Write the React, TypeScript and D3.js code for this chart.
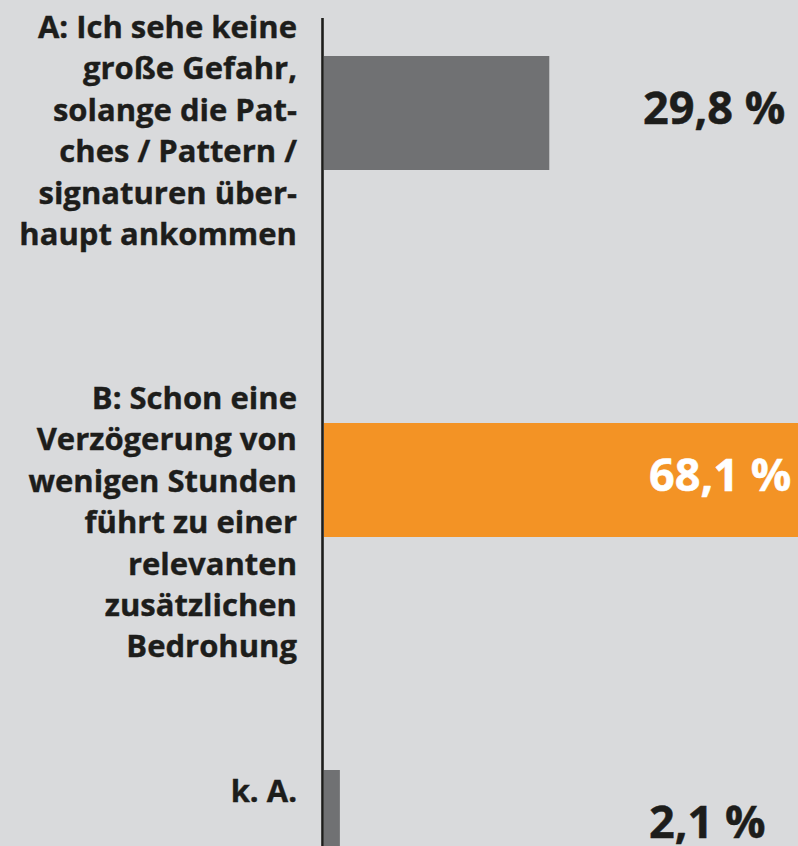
import React from "react";
import * as d3 from "d3";

const categories = ["A", "B", "k.A."];
const values = [29.8, 68.1, 2.1];
const valueLabels = ["29,8 %", "68,1 %", "2,1 %"];
const labelLines = [
  ["A: Ich sehe keine", "große Gefahr,", "solange die Pat-", "ches / Pattern /", "signaturen über-", "haupt ankommen"],
  ["B: Schon eine", "Verzögerung von", "wenigen Stunden", "führt zu einer", "relevanten", "zusätzlichen", "Bedrohung"],
  ["k. A."],
];
const barColors = ["#707173", "#f39325", "#707173"];
const valueColors = ["#1d1d1b", "#ffffff", "#1d1d1b"];

const W = 798;
const H = 846;
const FONT = "'Open Sans', 'DejaVu Sans', sans-serif";

export default function App() {
  const x = d3.scaleLinear().domain([0, 100]).range([324, 324 + 756]);
  const yBar = d3.scaleOrdinal<string, number>().domain(categories).range([56, 423, 770]);
  const yLabel = d3.scaleOrdinal<string, number>().domain(categories).range([38, 409, 802]);
  const barH = 114;
  const lineH = 41.4;
  const valueX = d3.scaleOrdinal<string, number>().domain(categories).range([643, 649, 649]);

  return (
    <svg width={W} height={H} style={{ position: "fixed", left: 0, top: 0, display: "block" }}>
      <rect x={0} y={0} width={W} height={H} fill="#d9dadc" />
      {categories.map((c, i) => (
        <rect key={c} x={x(0)} y={yBar(c)} width={x(values[i]) - x(0)} height={barH} fill={barColors[i]} />
      ))}
      <line x1={322.5} x2={322.5} y1={18} y2={H} stroke="#1d1d1b" strokeWidth={2.6} />
      {categories.map((c, i) => (
        <text key={"l" + c} fontFamily={FONT} fontWeight={700} fontSize={31} fill="#1d1d1b" textAnchor="end"
          stroke="#1d1d1b" strokeWidth={0.4} transform={`translate(297,0)`}>
          {labelLines[i].map((ln, j) => (
            <tspan key={j} x={0} y={yLabel(c) + j * lineH}>{ln}</tspan>
          ))}
        </text>
      ))}
      {categories.map((c, i) => (
        <text key={"v" + c} fontFamily={FONT} fontWeight={700} fontSize={45} fill={valueColors[i]} textAnchor="start"
          stroke={valueColors[i]} strokeWidth={0.5}
          transform={`translate(${valueX(c)},${yBar(c) + barH / 2 + 11})`}>
          {valueLabels[i]}
        </text>
      ))}
    </svg>
  );
}
